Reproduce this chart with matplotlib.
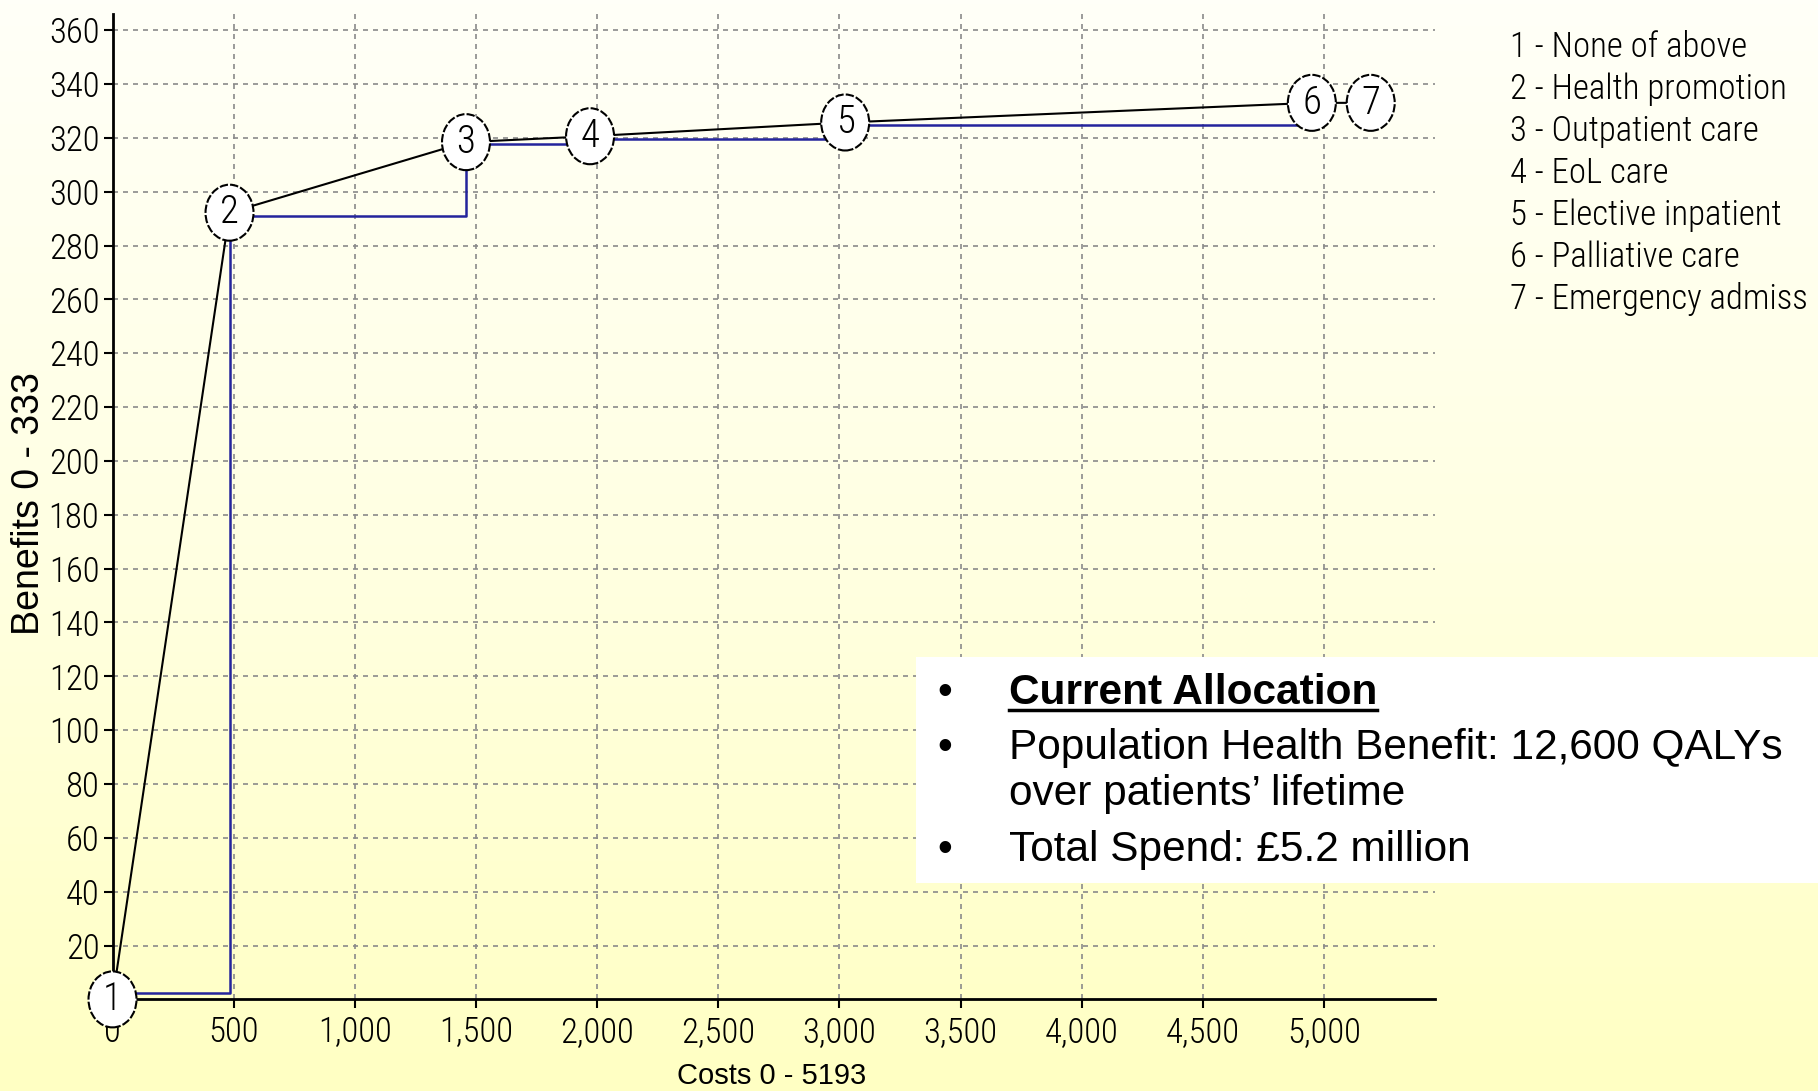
import numpy as np
import matplotlib.pyplot as plt
from matplotlib.patches import Ellipse, Rectangle
from matplotlib.colors import LinearSegmentedColormap
from matplotlib.lines import Line2D

# Options on the frontier (cost, benefit)
labels = ["1", "2", "3", "4", "5", "6", "7"]
costs = [0, 483, 1459, 1971, 3024, 4950, 5193]
benefits = [0, 292.2, 318.4, 320.6, 325.7, 333, 333]

# Current allocation step line (blue)
alloc_costs = [0, 483, 1459, 1971, 3024, 4950]
alloc_benefits = [2.3, 291, 317.6, 319.6, 324.6, 324.6]

legend_items = ["1 - None of above", "2 - Health promotion", "3 - Outpatient care",
                "4 - EoL care", "5 - Elective inpatient", "6 - Palliative care",
                "7 - Emergency admiss"]

x_ticks = [0, 500, 1000, 1500, 2000, 2500, 3000, 3500, 4000, 4500, 5000]
y_ticks = list(range(20, 361, 20))

NARROW = ["Roboto Condensed", "PT Sans Narrow", "Archivo Narrow", "Liberation Sans"]
ARIAL = ["Liberation Sans", "DejaVu Sans"]

W, H = 1818, 1091
fig = plt.figure(figsize=(W / 100, H / 100), dpi=100)

# yellow gradient background
bg = fig.add_axes([0, 0, 1, 1], zorder=-10)
cmap = LinearSegmentedColormap.from_list("bg", ["#FFFFF8", "#FFFFE2", "#FFFFC3"])
bg.imshow(np.linspace(0, 1, 256).reshape(-1, 1), aspect="auto", cmap=cmap,
          extent=[0, 1, 0, 1])
bg.axis("off")

x0, x1 = 112.5, 1435.4
y0, y1 = 999.4, 14
ax = fig.add_axes([x0 / W, (H - y0) / H, (x1 - x0) / W, (y0 - y1) / H])
ax.set_facecolor("none")
ax.set_xlim(0, 5460)
ax.set_ylim(0, 366)

ax.plot(alloc_costs, alloc_benefits, drawstyle="steps-post", color="#24249c",
        lw=1.8, zorder=2)
ax.plot(costs, benefits, color="black", lw=1.5, zorder=3)

ew, eh = 198, 20.8
for x, y, l in zip(costs, benefits, labels):
    ax.add_patch(Ellipse((x, y), ew, eh, fc="white", ec="black", lw=1.5,
                         ls=(0, (4, 1)), zorder=5, clip_on=False))
    ax.text(x, y, l, ha="center", va="center", fontsize=28, family=NARROW,
            weight="light", zorder=6, clip_on=False)

ax.set_xticks(x_ticks)
ax.set_xticklabels([f"{v:,}" for v in x_ticks])
ax.set_yticks(y_ticks)
ax.set_yticklabels([str(v) for v in y_ticks])
for t in ax.get_xticklabels() + ax.get_yticklabels():
    t.set_family(NARROW)
    t.set_fontsize(25)
    t.set_weight("light")
ax.tick_params(direction="out", length=6.5, width=1.5, colors="black")
ax.tick_params(axis="x", pad=5)
ax.tick_params(axis="y", pad=3)

ax.grid(True, color="#8a8a8a", ls=(0, (3, 3)), lw=1.2, zorder=0)
for s in ["top", "right"]:
    ax.spines[s].set_visible(False)
for s in ["left", "bottom"]:
    ax.spines[s].set_linewidth(2)
    ax.spines[s].set_color("black")

fig.text(29 / W, 1 - 504 / H, "Benefits 0 - 333", rotation=90, ha="center",
         va="center", fontsize=27, family=ARIAL)
fig.text(772 / W, 1 - 1076 / H, "Costs 0 - 5193", ha="center", va="center",
         fontsize=21, family=ARIAL)

# legend list at top right
for i, item in enumerate(legend_items):
    fig.text(1510 / W, 1 - (47 + 42 * i) / H, item, ha="left", va="center",
             fontsize=25, family=NARROW, weight="light")

# white annotation box
fig.add_artist(Rectangle((916 / W, 1 - 883 / H), (W - 916) / W, (883 - 657) / H,
                         transform=fig.transFigure, fc="white", ec="none", zorder=20))

lines = [("Current Allocation", 693, "bold", True),
         ("Population Health Benefit: 12,600 QALYs", 748, "normal", True),
         ("over patients\u2019 lifetime", 794.5, "normal", False),
         ("Total Spend: \u00a35.2 million", 850, "normal", True)]
head = None
for txt, yc, wt, bullet in lines:
    if bullet:
        fig.text(937 / W, 1 - yc / H, "\u2022", ha="left", va="center",
                 fontsize=30.5, family=ARIAL, zorder=21)
    t = fig.text(1009 / W, 1 - yc / H, txt, ha="left", va="center",
                 fontsize=30.5, family=ARIAL, weight=wt, zorder=21)
    if head is None:
        head = t

fig.canvas.draw()
bb = head.get_window_extent(fig.canvas.get_renderer())
uy = bb.y0 + 3
fig.add_artist(Line2D([bb.x0 / W, bb.x1 / W], [uy / H, uy / H],
                      transform=fig.transFigure, color="black", lw=2.5, zorder=22))

fig.savefig("out.png", dpi=100)
